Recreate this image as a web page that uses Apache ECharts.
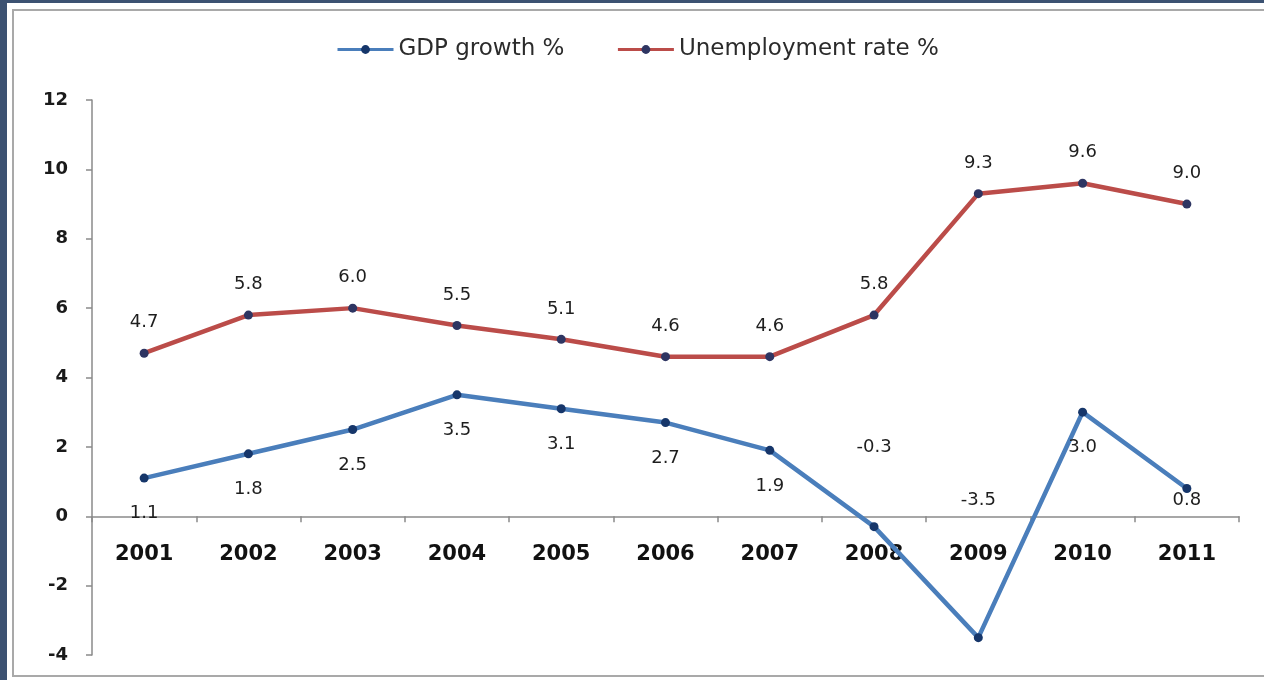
<!DOCTYPE html>
<html>
<head>
<meta charset="utf-8">
<script src="https://cdn.jsdelivr.net/npm/echarts@6/dist/echarts.min.js"></script>
<style>
  html, body { margin: 0; padding: 0; background: #3c5272; }
  #sheet { position: absolute; left: 7px; top: 3px; width: 1257px; height: 677px; background: #fff; }
  #frame { position: absolute; left: 5px; top: 6px; width: 1260px; height: 664px; border: 2px solid #a9a9a9; }
  #chart { position: absolute; left: 0; top: 0; width: 1264px; height: 680px; }
</style>
</head>
<body>
<div id="sheet"><div id="frame"></div></div>
<div id="chart"></div>
<script>
const years = ['2001', '2002', '2003', '2004', '2005', '2006', '2007', '2008', '2009', '2010', '2011'];
const gdpGrowth = [1.1, 1.8, 2.5, 3.5, 3.1, 2.7, 1.9, -0.3, -3.5, 3.0, 0.8];
const unemployment = [4.7, 5.8, 6.0, 5.5, 5.1, 4.6, 4.6, 5.8, 9.3, 9.6, 9.0];
const yTicks = { min: -4, max: 12, step: 2 };

// a few GDP labels sit in odd places in the original, place them per point
const gdpLabelFix = {
  7: { position: 'top', distance: 66 },
  8: { position: 'top', distance: 124 },
  10: { position: 'bottom', distance: -2 }
};

const font = 'DejaVu Sans';
const gridTop = 100, gridBottom = 25;
const plotH = 680 - gridTop - gridBottom;
// year labels hang under the zero line, not under the plot
const zeroShift = -plotH * (0 - yTicks.min) / (yTicks.max - yTicks.min);

const chart = echarts.init(document.getElementById('chart'));

const gdpData = gdpGrowth.map((v, i) => gdpLabelFix[i] ? { value: v, label: gdpLabelFix[i] } : v);

const axisGrey = { color: '#8a8a8a', width: 1.5 };

const option = {
  animation: false,
  backgroundColor: 'transparent',
  legend: {
    left: 331,
    top: 33,
    itemWidth: 56,
    itemHeight: 11,
    itemGap: 52,
    textStyle: { fontFamily: font, fontSize: 23, color: '#2b2b2b' },
    lineStyle: { width: 3 },
    data: ['GDP growth %', 'Unemployment rate %']
  },
  grid: { left: 92, right: 25, top: gridTop, bottom: gridBottom, outerBoundsMode: 'none', containLabel: false },
  xAxis: [
    {
      type: 'category',
      data: years,
      boundaryGap: true,
      axisLine: { onZero: true, lineStyle: axisGrey },
      axisTick: { show: true, length: 6, lineStyle: axisGrey },
      axisLabel: { show: false },
      splitLine: { show: false }
    },
    {
      type: 'category',
      data: years,
      position: 'bottom',
      offset: zeroShift,
      boundaryGap: true,
      axisLine: { show: false, onZero: false },
      axisTick: { show: false },
      axisLabel: { fontFamily: font, fontWeight: 'bold', fontSize: 21, color: '#111', margin: 28 },
      splitLine: { show: false }
    }
  ],
  yAxis: {
    type: 'value',
    min: yTicks.min,
    max: yTicks.max,
    interval: yTicks.step,
    axisLine: { show: true, lineStyle: axisGrey },
    axisTick: { show: true, length: 6, lineStyle: axisGrey },
    axisLabel: { fontFamily: font, fontWeight: 'bold', fontSize: 18, color: '#1a1a1a', margin: 24 },
    splitLine: { show: false }
  },
  series: [
    {
      name: 'GDP growth %',
      type: 'line',
      data: gdpData,
      symbol: 'circle',
      symbolSize: 9,
      z: 3,
      lineStyle: { color: '#4a7ebb', width: 4.5 },
      itemStyle: { color: '#16366a' },
      label: {
        show: true,
        position: 'bottom',
        distance: 22,
        fontFamily: font,
        fontSize: 18,
        color: '#1e1e1e',
        formatter: p => Number(p.value).toFixed(1)
      }
    },
    {
      name: 'Unemployment rate %',
      type: 'line',
      data: unemployment,
      symbol: 'circle',
      symbolSize: 9,
      z: 3,
      lineStyle: { color: '#bb4c49', width: 4.5 },
      itemStyle: { color: '#2e3562' },
      label: {
        show: true,
        position: 'top',
        distance: 17,
        fontFamily: font,
        fontSize: 18,
        color: '#1e1e1e',
        formatter: p => Number(p.value).toFixed(1)
      }
    }
  ]
};

chart.setOption(option);
</script>
</body>
</html>
